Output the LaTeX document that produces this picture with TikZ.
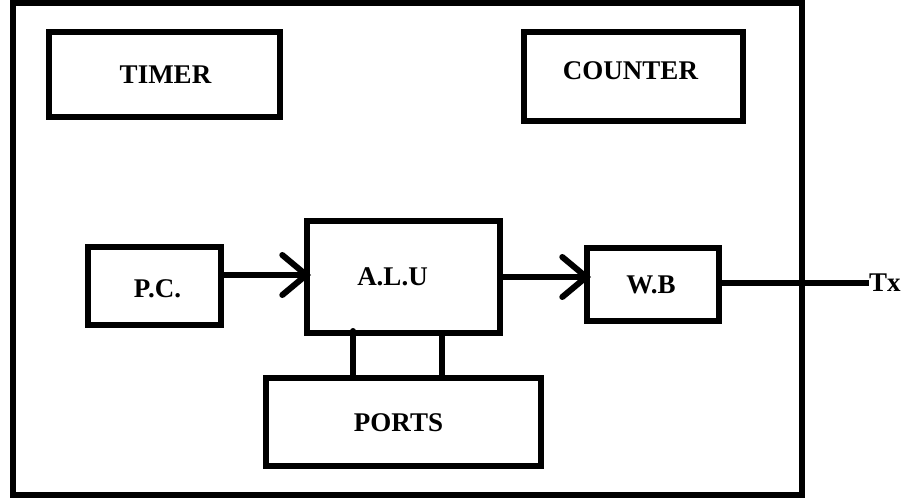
\documentclass[tikz,border=0pt]{standalone}
\usepackage{fontspec}
\setmainfont{Liberation Serif}
\usetikzlibrary{arrows.meta}
\begin{document}
\begin{tikzpicture}[x=1pt,y=-1pt,
  box/.style={draw, line width=6pt, rectangle, inner sep=0pt},
  lbl/.style={font=\fontsize{27}{30}\selectfont\bfseries, inner sep=0pt},
  wire/.style={line width=6pt},
  arr/.style={wire, shorten >=-7pt, -{Straight Barb[length=24pt, width=40pt, line cap=round]}}]
\useasboundingbox (0,0) rectangle (903,499);
\node[box, minimum width=789pt, minimum height=492pt] (frame) at (407.5,249) {};
\node[box, minimum width=231pt, minimum height=85pt, label={[lbl, xshift=1pt]center:TIMER}] (timer) at (164.5,74.5) {};
\node[box, minimum width=219pt, minimum height=89pt, label={[lbl, xshift=-3pt, yshift=6pt]center:COUNTER}] (counter) at (633.5,76.5) {};
\node[box, minimum width=133pt, minimum height=78pt, label={[lbl, xshift=3pt, yshift=-3pt]center:P.C.}] (pc) at (154.5,286) {};
\node[box, minimum width=193pt, minimum height=112pt, label={[lbl, xshift=-11pt]center:A.L.U}] (alu) at (403.5,277) {};
\node[box, minimum width=132pt, minimum height=73pt, label={[lbl, xshift=-2pt]center:W.B}] (wb) at (653,284.5) {};
\node[box, minimum width=275pt, minimum height=88pt, label={[lbl, xshift=-5pt, yshift=-1pt]center:PORTS}] (ports) at (403.5,422) {};
\node[lbl, anchor=west] (tx) at (869,283) {Tx};
\draw[arr] (pc.east |- 0,275) -- (alu.west |- 0,275);
\draw[arr] (alu.east |- 0,277) -- (wb.west |- 0,277);
\draw[wire] (wb.east |- tx.west) -- (tx.west);
\draw[wire, line cap=round] (alu.south -| 353,0) ++(0,-5) -- (ports.north -| 353,0);
\draw[wire] (alu.south -| 442,0) -- (ports.north -| 442,0);
\end{tikzpicture}
\end{document}
